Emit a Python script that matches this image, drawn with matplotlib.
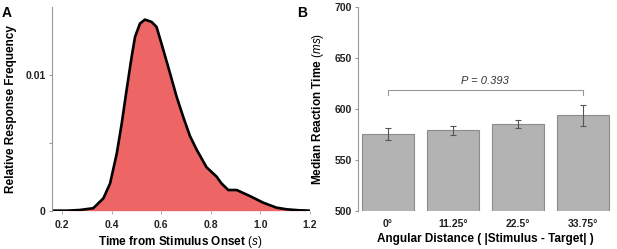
import numpy as np
import matplotlib
matplotlib.use("Agg")
import matplotlib.pyplot as plt

plt.rcParams['font.family'] = ['Liberation Sans', 'DejaVu Sans']
plt.rcParams['mathtext.fontset'] = 'custom'
plt.rcParams['mathtext.rm'] = 'Liberation Sans'
plt.rcParams['mathtext.it'] = 'Liberation Sans:italic'

# panel A: response time density
rt_s = [0.157, 0.22, 0.2715, 0.325, 0.366, 0.393, 0.42, 0.44, 0.46, 0.48, 0.494,
        0.514, 0.534, 0.561, 0.581, 0.601, 0.628, 0.662, 0.689, 0.716, 0.743,
        0.783, 0.824, 0.844, 0.871, 0.905, 0.958, 1.012, 1.066, 1.107, 1.155, 1.2]
freq = [0.0, 0.0, 0.00005, 0.00018, 0.00091, 0.0020, 0.0042, 0.0064, 0.0089,
        0.0113, 0.0128, 0.01378, 0.01407, 0.0139, 0.01353, 0.0123, 0.0106, 0.0084,
        0.0069, 0.0055, 0.0045, 0.0032, 0.0025, 0.0020, 0.00152, 0.00152, 0.00108,
        0.00059, 0.00022, 0.0001, 0.00003, 0.0]

# panel B: median RT per angular distance
categorias = ['0°', '11.25°', '22.5°', '33.75°']
mediana_rt = [575.5, 579, 585, 593.5]
erro_rt = [6, 4.5, 4, 10.5]
p_texto = 'P = 0.393'

fig = plt.figure(figsize=(6.17, 2.49), dpi=100)

# ---- A ----
axA = fig.add_axes([0.0838, 0.154, 0.418, 0.818])
axA.fill_between(rt_s, freq, 0, color='#EE6565', lw=0)
axA.plot(rt_s, freq, color='black', lw=1.9, solid_joinstyle='round', solid_capstyle='round')
axA.set_xlim(0.157, 1.2)
axA.set_ylim(0, 0.015)
for s in ['top', 'right', 'bottom']:
    axA.spines[s].set_visible(False)
axA.spines['left'].set_color('#999999')
axA.spines['left'].set_linewidth(0.8)
axA.set_yticks([0, 0.005, 0.01])
axA.set_yticklabels(['0', '', '0.01'])
axA.set_xticks([0.2, 0.4, 0.6, 0.8, 1.0, 1.2])
axA.set_xticklabels(['0.2', '0.4', '0.6', '0.8', '1.0', '1.2'])
axA.tick_params(axis='x', length=2.5, color='#aaaaaa', width=0.7, pad=4)
axA.tick_params(axis='y', length=2.5, color='#999999', pad=2)
for lab in axA.get_xticklabels() + axA.get_yticklabels():
    lab.set_fontsize(7.5)
    lab.set_fontweight('bold')
    lab.set_color('#222222')
axA.set_ylabel('Relative Response Frequency', fontsize=8.5, fontweight='bold', labelpad=6)
axA.set_xlabel(r'Time from Stimulus Onset $\it{(s)}$', fontsize=8.5, fontweight='bold', labelpad=3)
fig.text(0.003, 0.975, 'A', fontsize=10, fontweight='bold', va='top')

# ---- B ----
axB = fig.add_axes([0.5807, 0.154, 0.4113, 0.819])
x = np.arange(len(categorias))
axB.bar(x, mediana_rt, width=0.8, bottom=0, color='#B3B3B3', edgecolor='#8C8C8C', lw=0.8)
axB.errorbar(x, mediana_rt, yerr=erro_rt, fmt='none', ecolor='#555555', elinewidth=0.8,
             capsize=2, capthick=0.8)
axB.set_xlim(-0.457, 3.45)
axB.set_ylim(500, 700)
for s in ['top', 'right', 'bottom']:
    axB.spines[s].set_visible(False)
axB.spines['left'].set_color('#999999')
axB.spines['left'].set_linewidth(0.8)
axB.set_yticks([500, 550, 600, 650, 700])
axB.set_xticks(x)
axB.set_xticklabels(categorias)
axB.tick_params(axis='x', length=0, pad=6)
axB.tick_params(axis='y', length=2.5, color='#999999', pad=2)
for lab in axB.get_xticklabels() + axB.get_yticklabels():
    lab.set_fontsize(7.5)
    lab.set_fontweight('bold')
    lab.set_color('#222222')
axB.set_ylabel(r'Median Reaction Time $\it{(ms)}$', fontsize=8.5, fontweight='bold', labelpad=6)
axB.set_xlabel('Angular Distance ( |Stimulus - Target| )', fontsize=8.5, fontweight='bold', labelpad=3)

# colchete de significancia
axB.plot([x[0], x[0], x[-1], x[-1]], [613.5, 618.3, 618.3, 613.5], color='#999999', lw=0.8)
axB.text((x[0] + x[-1]) / 2, 622, p_texto, ha='center', va='bottom', fontsize=8,
         style='italic', color='#333333')
fig.text(0.482, 0.975, 'B', fontsize=10, fontweight='bold', va='top')

fig.savefig('out.png', dpi=100)
